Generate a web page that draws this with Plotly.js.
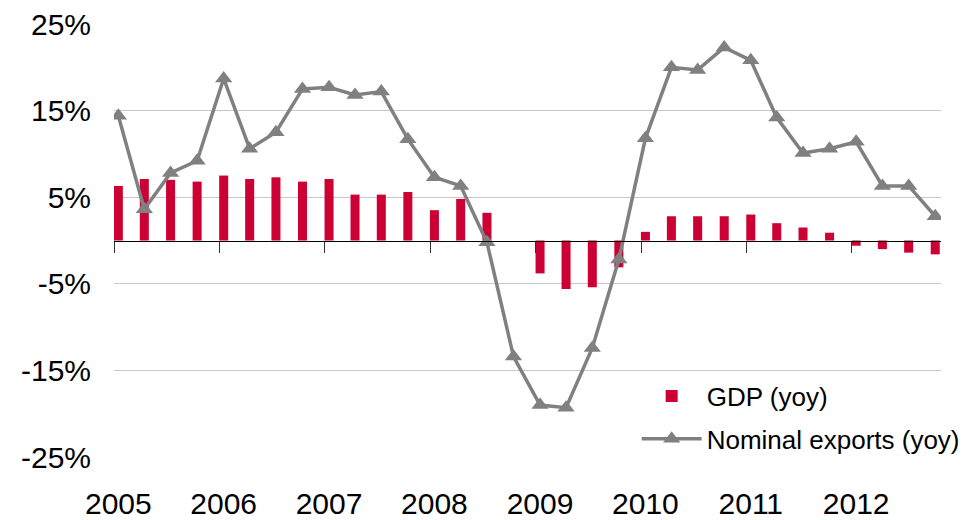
<!DOCTYPE html>
<html>
<head>
<meta charset="utf-8">
<script src="https://cdn.plot.ly/plotly-3.0.1.min.js"></script>
<style>
  html, body { margin: 0; padding: 0; background: #ffffff; }
  #chart { width: 967px; height: 520px; }
</style>
</head>
<body>
<div id="chart"></div>
<script>
// Quarters 2005Q1 .. 2012Q4 (plotted mid-first-month of each quarter)
const quarters = [
  '2005-01-16','2005-04-16','2005-07-16','2005-10-16',
  '2006-01-16','2006-04-16','2006-07-16','2006-10-16',
  '2007-01-16','2007-04-16','2007-07-16','2007-10-16',
  '2008-01-16','2008-04-16','2008-07-16','2008-10-16',
  '2009-01-16','2009-04-16','2009-07-16','2009-10-16',
  '2010-01-16','2010-04-16','2010-07-16','2010-10-16',
  '2011-01-16','2011-04-16','2011-07-16','2011-10-16',
  '2012-01-16','2012-04-16','2012-07-16','2012-10-16'
];

// GDP (yoy), %
const gdp = [
  6.3, 7.1, 7.0, 6.8,
  7.5, 7.1, 7.3, 6.8,
  7.1, 5.3, 5.3, 5.6,
  3.5, 4.8, 3.2, 0.0,
  -3.8, -5.6, -5.4, -3.1,
  1.0, 2.8, 2.8, 2.8,
  3.0, 2.0, 1.5, 0.9,
  -0.6, -1.0, -1.4, -1.6
];

// Nominal exports (yoy), %
const exportsYoy = [
  14.4, 3.6, 7.8, 9.2,
  18.7, 10.6, 12.5, 17.5,
  17.7, 16.8, 17.2, 11.7,
  7.3, 6.3, -0.2, -13.4,
  -19.0, -19.3, -12.4, -2.2,
  11.8, 20.0, 19.7, 22.3,
  20.8, 14.2, 10.1, 10.6,
  11.4, 6.3, 6.3, 2.8
];

// Axis labels
const yearLabelPos = ['2005-01-16','2006-01-16','2007-01-16','2008-01-16','2009-01-16','2010-01-16','2011-01-16','2012-01-16'];
const yearLabels = ['2005','2006','2007','2008','2009','2010','2011','2012'];
const yearBoundaries = ['2005-01-01','2006-01-01','2007-01-01','2008-01-01','2009-01-01','2010-01-01','2011-01-01','2012-01-01'];
const yTicks = [-25, -15, -5, 5, 15, 25];
const yTickText = ['-25%', '-15%', '-5%', '5%', '15%', '25%'];

const FONT = 'Liberation Sans, Arial, sans-serif';
const xRange = ['2005-01-01', '2012-11-05'];

const traces = [
  {
    type: 'bar',
    name: 'GDP (yoy)',
    legendgroup: 'gdp',
    x: quarters,
    y: gdp,
    width: 2.7e9,
    marker: { color: '#CC0033', line: { width: 0 } },
    hoverinfo: 'x+y'
  },
  {
    type: 'scatter',
    mode: 'lines+markers',
    name: 'Nominal exports (yoy)',
    legendgroup: 'exp',
    x: quarters,
    y: exportsYoy,
    line: { color: '#808080', width: 3.5 },
    marker: { symbol: 'triangle-up', size: 15, color: '#808080' }
  },
  // invisible trace hosting the zero-line tick axis
  {
    type: 'scatter',
    mode: 'markers',
    x: yearBoundaries,
    y: yearBoundaries.map(() => 0),
    xaxis: 'x2',
    yaxis: 'y',
    marker: { opacity: 0 },
    showlegend: false,
    hoverinfo: 'skip'
  }
];

const layout = {
  width: 967,
  height: 520,
  margin: { l: 114, r: 26, t: 24, b: 63, autoexpand: false },
  paper_bgcolor: '#ffffff',
  plot_bgcolor: '#ffffff',
  font: { family: FONT, color: '#000000', size: 30 },
  showlegend: true,
  legend: {
    x: 0.632,
    y: 0.195,
    xanchor: 'left',
    yanchor: 'top',
    bgcolor: 'rgba(0,0,0,0)',
    font: { family: FONT, size: 26, color: '#000000' },
    itemwidth: 60,
    traceorder: 'grouped',
    tracegroupgap: 6
  },
  bargap: 0.66,
  xaxis: {
    type: 'date',
    range: xRange,
    tickmode: 'array',
    tickvals: yearLabelPos,
    ticktext: yearLabels,
    ticks: '',
    showgrid: false,
    zeroline: false,
    showline: false,
    ticklabelstandoff: 26,
    tickfont: { family: FONT, size: 30, color: '#000000' },
    fixedrange: true
  },
  xaxis2: {
    type: 'date',
    overlaying: 'x',
    matches: 'x',
    anchor: 'free',
    position: 0.5,
    side: 'bottom',
    tickmode: 'array',
    tickvals: yearBoundaries,
    ticks: 'outside',
    ticklen: 11,
    tickwidth: 1,
    tickcolor: '#333333',
    showticklabels: false,
    showgrid: false,
    zeroline: false,
    showline: true,
    linecolor: '#000000',
    linewidth: 1.3
  },
  yaxis: {
    range: [-25, 25],
    tickmode: 'array',
    tickvals: yTicks,
    ticktext: yTickText,
    ticks: '',
    showgrid: true,
    gridcolor: '#c8c8c8',
    gridwidth: 1,
    zeroline: false,
    showline: false,
    ticklabelstandoff: 22,
    tickfont: { family: FONT, size: 30, color: '#000000' },
    fixedrange: true
  }
};

Plotly.newPlot('chart', traces, layout, { displayModeBar: false, staticPlot: true });
</script>
</body>
</html>
